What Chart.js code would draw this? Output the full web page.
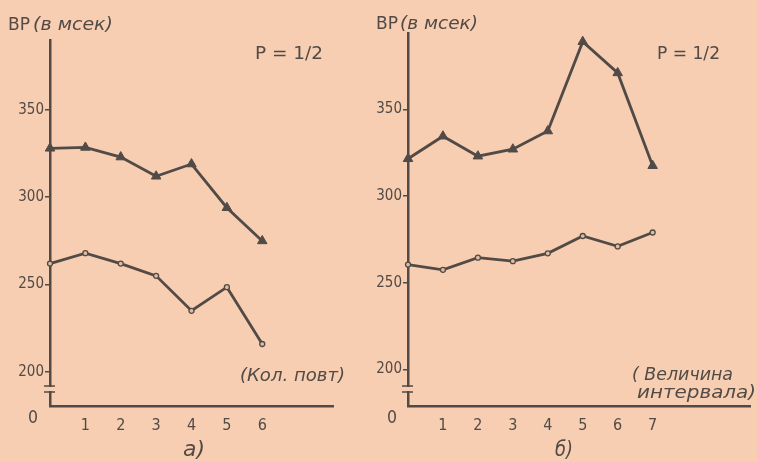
<!DOCTYPE html>
<html>
<head>
<meta charset="utf-8">
<script src="https://cdn.jsdelivr.net/npm/chart.js@4"></script>
<style>
    body { margin: 0; background: #f7ceb1; }
    #wrap { position: relative; width: 757px; height: 462px; overflow: hidden; }
    canvas { position: absolute; top: 0; }
</style>
</head>
<body>
<div id="wrap">
    <canvas id="chartA" width="378" height="462" style="left:0;width:378px;height:462px"></canvas>
    <canvas id="chartB" width="397" height="462" style="left:360px;width:397px;height:462px"></canvas>
</div>
<script>
// а) number of repetitions
const leftX = [0, 1, 2, 3, 4, 5, 6];
const leftTriangles = [328, 328.5, 323, 312, 319, 294, 275];
const leftCircles = [262, 268, 262, 255, 235, 248.5, 216];
const leftXTicks = [1, 2, 3, 4, 5, 6];

// б) interval length
const rightX = [0, 1, 2, 3, 4, 5, 6, 7];
const rightTriangles = [321.5, 334.5, 323, 327, 337.5, 389, 371, 317.5];
const rightCircles = [260.5, 257.5, 264.5, 262.5, 267, 277, 271, 279];
const rightXTicks = [1, 2, 3, 4, 5, 6, 7];

const yTicks = [200, 250, 300, 350];

const INK = '#514a46';
const PAPER = '#f7ceb1';
const FONT = '"DejaVu Sans Condensed", "Liberation Sans Narrow", sans-serif';

function toPoints(xs, ys) {
    return xs.map((x, i) => ({ x: x, y: ys[i] }));
}

// stretch text to the width it takes in the scan
function fitText(ctx, str, x0, x1, yc, size, italic) {
    ctx.font = (italic ? 'italic ' : '') + size + 'px "DejaVu Sans"';
    const w = ctx.measureText(str).width;
    ctx.save();
    ctx.translate(x0, yc);
    ctx.scale((x1 - x0) / w, 1);
    ctx.textAlign = 'left';
    ctx.textBaseline = 'middle';
    ctx.fillStyle = INK;
    ctx.fillText(str, 0, 0);
    ctx.restore();
}

const notesPlugin = {
    id: 'notes',
    afterDraw(chart, args, opts) {
        const ctx = chart.ctx;
        const ax = chart.chartArea.left;
        // broken y axis
        ctx.save();
        ctx.fillStyle = PAPER;
        ctx.fillRect(ax - 3, 387, 6, 4);
        ctx.strokeStyle = INK;
        ctx.lineWidth = 1.6;
        ctx.beginPath();
        ctx.moveTo(ax - 6, 386); ctx.lineTo(ax + 5, 386);
        ctx.moveTo(ax - 6, 392); ctx.lineTo(ax + 5, 392);
        ctx.stroke();
        ctx.restore();
        opts.items.forEach(t => fitText(ctx, t.text, t.x0, t.x1, t.y, t.size, t.italic));
    }
};

function makePanel(id, xs, tri, circ, xTicks, yMin, yMax, xMax, axisWidth, padRight, padTop, items) {
    new Chart(document.getElementById(id), {
        type: 'line',
        data: {
            datasets: [{
                data: toPoints(xs, tri),
                borderColor: INK,
                borderWidth: 2.8,
                pointStyle: 'triangle',
                pointRadius: 5.5,
                pointBackgroundColor: INK,
                pointBorderColor: INK,
                pointBorderWidth: 1,
                clip: false
            }, {
                data: toPoints(xs, circ),
                borderColor: INK,
                borderWidth: 2.8,
                pointStyle: 'circle',
                pointRadius: 2.5,
                pointBackgroundColor: '#e0bba0',
                pointBorderColor: INK,
                pointBorderWidth: 1.3,
                clip: false
            }]
        },
        options: {
            responsive: false,
            animation: false,
            layout: { padding: { top: padTop, right: padRight, bottom: 0, left: 0 } },
            plugins: {
                legend: { display: false },
                tooltip: { enabled: false },
                notes: { items: items }
            },
            scales: {
                x: {
                    type: 'linear',
                    min: 0,
                    max: xMax,
                    afterBuildTicks: s => { s.ticks = xTicks.map(v => ({ value: v })); },
                    afterFit: s => { s.height = 56; },
                    grid: { display: false, drawTicks: false },
                    border: { display: true, color: INK, width: 2.5 },
                    ticks: { color: INK, padding: 10, font: { family: FONT, size: 16 } }
                },
                y: {
                    min: yMin,
                    max: yMax,
                    afterBuildTicks: s => { s.ticks = yTicks.map(v => ({ value: v })); },
                    afterFit: s => { s.width = axisWidth; },
                    grid: { display: true, drawOnChartArea: false, drawTicks: true, tickLength: 5, color: INK, lineWidth: 1.5 },
                    border: { display: true, color: INK, width: 2.5 },
                    ticks: { color: INK, padding: 1, font: { family: FONT, size: 15 } }
                }
            }
        },
        plugins: [notesPlugin]
    });
}

makePanel('chartA', leftX, leftTriangles, leftCircles, leftXTicks, 180.5, 390, 8, 50, 45, 40, [
    { text: 'ВР', x0: 8, x1: 30, y: 26, size: 17, italic: false },
    { text: '(в мсек)', x0: 33, x1: 113, y: 26, size: 17, italic: true },
    { text: 'P = 1/2', x0: 255, x1: 323, y: 55, size: 17, italic: false },
    { text: '(Кол. повт)', x0: 240, x1: 345, y: 377, size: 17, italic: true },
    { text: '0', x0: 28, x1: 38, y: 419, size: 17, italic: false },
    { text: 'а)', x0: 183, x1: 205, y: 450, size: 22, italic: true }
]);

makePanel('chartB', rightX, rightTriangles, rightCircles, rightXTicks, 179, 394, 9.8, 48, 0, 33, [
    { text: 'ВР', x0: 16, x1: 38, y: 25, size: 17, italic: false },
    { text: '(в мсек)', x0: 40, x1: 118, y: 25, size: 17, italic: true },
    { text: 'P = 1/2', x0: 297, x1: 360, y: 55, size: 17, italic: false },
    { text: '( Величина', x0: 272, x1: 373, y: 376, size: 17, italic: true },
    { text: 'интервала)', x0: 277, x1: 396, y: 394, size: 17, italic: true },
    { text: '0', x0: 27, x1: 37, y: 419, size: 17, italic: false },
    { text: 'б)', x0: 195, x1: 213, y: 450, size: 22, italic: true }
]);
</script>
</body>
</html>
